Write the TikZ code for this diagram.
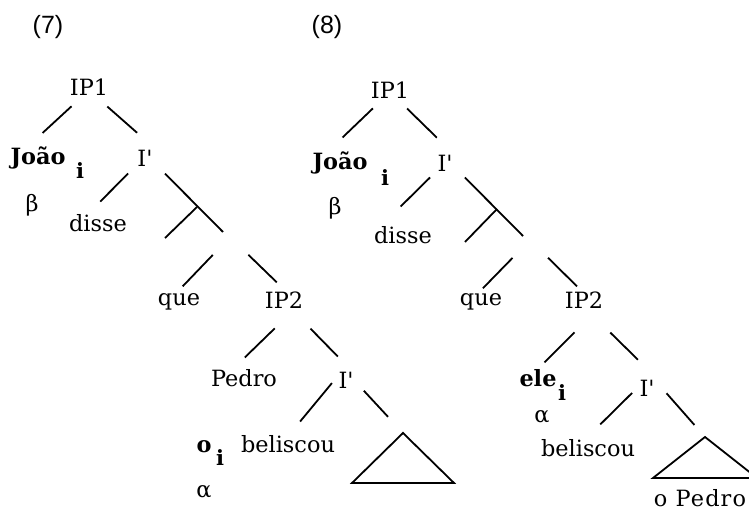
\documentclass[tikz,border=0pt]{standalone}
\usepackage{fontspec}
\setmainfont{DejaVu Serif}
\newfontfamily\exfont{Liberation Sans}
\newcommand{\Ibar}{I\textquotesingle}
\tikzset{
  lbl/.style={inner sep=0pt, font=\fontsize{11.2}{13}\selectfont},
  lblb/.style={lbl, font=\fontsize{11.2}{13}\selectfont\bfseries},
  idx/.style={inner sep=0pt, font=\fontsize{10.5}{12}\selectfont\bfseries},
  exnum/.style={inner sep=0pt, font=\exfont\fontsize{12.5}{14}\selectfont},
  branch/.style 2 args={line width=0.9pt, shorten <=#1, shorten >=#2},
  tri/.style={line width=0.9pt, line join=miter},
}

\begin{document}
\begin{tikzpicture}[x=0.5pt, y=-0.5pt]
    \useasboundingbox (0,0) rectangle (749,517);
    \clip (0,0) rectangle (749,517);

    % (7)
    \node[exnum] (numA) at (48,27) {(7)};
    \node[lbl] (ipA) at (89,87) {IP1};
    \node[lblb] (joaoA) at (38,158) {João};
    \node[idx] (iA) at (80,171) {i};
    \node[lbl] (betaA) at (32,205) {β};
    \node[lbl] (barA) at (145,158) {\Ibar};
    \node[lbl] (disseA) at (98,223) {disse};
    \node[lbl] (queA) at (179,302) {que};
    \node[lbl] (ipbA) at (284,300) {IP2};
    \node[lbl] (pedroA) at (244,378) {Pedro};
    \node[lbl] (barbA) at (346,380) {\Ibar};
    \node[lblb] (oA) at (204,447) {o};
    \node[idx] (ioA) at (220,458) {i};
    \node[lbl] (belA) at (288,444) {beliscou};
    \node[lbl] (alphaA) at (204,492) {α};
    \coordinate (cA) at (223,232);
    \coordinate (jA) at (197,207);
    \coordinate (dA) at (165,238);
    \coordinate (sA) at (230,237);
    \coordinate (triA) at (403,433);

    \draw[branch={7.8pt}{9.9pt}] ([xshift=-3pt]ipA.south) -- ([xshift=-5pt]joaoA.north);
    \draw[branch={8.2pt}{12.6pt}] ([xshift=3pt]ipA.south) -- ([xshift=5.5pt]barA.north);
    \draw[branch={4.9pt}{8.7pt}] ([xshift=-5pt]barA.south) -- ([xshift=-5pt]disseA.north);
    \draw[branch={5pt}{0pt}] ([xshift=6.5pt]barA.south) -- (cA);
    \draw[branch={0pt}{0pt}] (jA) -- (dA);
    \draw[branch={12.4pt}{4.8pt}] (sA) -- ([xshift=-1.5pt]queA.north);
    \draw[branch={12.8pt}{6.4pt}] (sA) -- ([xshift=1pt]ipbA.north);
    \draw[branch={14.1pt}{8.2pt}] ([xshift=5.5pt]ipbA.south) -- ([xshift=-5.5pt]pedroA.north);
    \draw[branch={13.9pt}{10.4pt}] ([xshift=3.5pt]ipbA.south) -- ([xshift=3.2pt]barbA.north);
    \draw[branch={2pt}{8.7pt}] ([xshift=-1.8pt]barbA.west) -- ([xshift=0.5pt]belA.north);
    \draw[branch={7.3pt}{11pt}] (barbA.east) -- (triA);
    \draw[tri] (triA) -- ++(-51,50) -- ++(102,0) -- cycle;

    % (8)
    \node[exnum] (numB) at (327,27) {(8)};
    \node[lbl] (ipB) at (390,90) {IP1};
    \node[lblb] (joaoB) at (340,163) {João};
    \node[idx] (iB) at (385,178) {i};
    \node[lbl] (betaB) at (335,208) {β};
    \node[lbl] (barB) at (445,163) {\Ibar};
    \node[lbl] (disseB) at (403,235) {disse};
    \node[lbl] (queB) at (481,302) {que};
    \node[lbl] (ipbB) at (584,300) {IP2};
    \node[lblb] (eleB) at (538,378) {ele};
    \node[idx] (ieB) at (562,393) {i};
    \node[lbl] (alphaB) at (542,417) {α};
    \node[lbl] (barbB) at (647,388) {\Ibar};
    \node[lbl] (belB) at (588,448) {beliscou};
    \node[lbl, font=\fontsize{11.2}{13}\selectfont\addfontfeature{LetterSpace=5}] (opB) at (700,498) {o Pedro};
    \coordinate (cB) at (523,236);
    \coordinate (jB) at (497,209);
    \coordinate (dB) at (465,242);
    \coordinate (sB) at (530,240);
    \coordinate (triB) at (705,437);

    \draw[branch={7pt}{10.1pt}] ([xshift=-3.5pt]ipB.south) -- ([xshift=-6pt]joaoB.north);
    \draw[branch={7pt}{12pt}] ([xshift=3.5pt]ipB.south) -- ([xshift=4.5pt]barB.north);
    \draw[branch={4.2pt}{13.8pt}] ([xshift=-4.5pt]barB.south) -- ([xshift=-11pt]disseB.north);
    \draw[branch={4.2pt}{0pt}] ([xshift=7pt]barB.south) -- (cB);
    \draw[branch={0pt}{0pt}] (jB) -- (dB);
    \draw[branch={12.5pt}{3.5pt}] (sB) -- ([xshift=-1.5pt]queB.north);
    \draw[branch={12.7pt}{3.5pt}] (sB) -- ([xshift=-1pt]ipbB.north);
    \draw[branch={16.7pt}{4.6pt}] ([xshift=7pt]ipbB.south) -- (eleB.north);
    \draw[branch={17pt}{14.1pt}] ([xshift=1pt]ipbB.south) -- ([xshift=5.5pt]barbB.north);
    \draw[branch={3.5pt}{10.3pt}] ([xshift=-1pt]barbB.west) -- ([xshift=-1.2pt]belB.north);
    \draw[branch={3.5pt}{8pt}] ([xshift=3.5pt]barbB.east) -- (triB);
    \draw[tri] (triB) -- ++(-52,41) -- ++(104,0) -- cycle;
\end{tikzpicture}
\end{document}
